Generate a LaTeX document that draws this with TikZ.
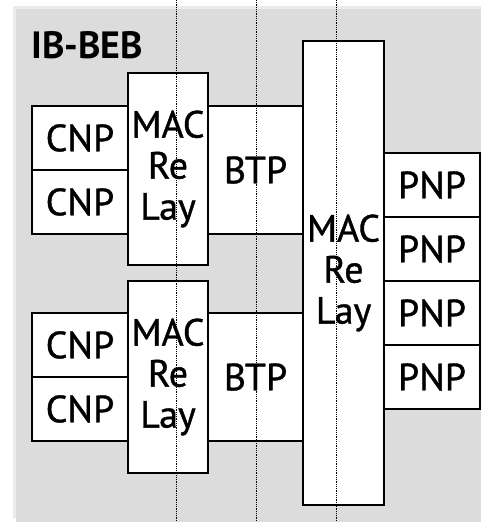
\documentclass[tikz,border=0pt]{standalone}
\usepackage{fontspec}
\setmainfont{PT Sans}
\newfontfamily\bebfont{PT Sans}[FakeBold=1]
\usetikzlibrary{positioning}
\definecolor{BebBack}{HTML}{DCDCDC}
\definecolor{BebShade}{HTML}{EBEBEB}

\begin{document}
\begin{tikzpicture}[x=1pt, y=-1pt, node distance=0pt,
  box/.style={draw=black, fill=white, line width=2pt, inner sep=0pt,
    outer sep=0pt, align=center, font=\bebfont\fontsize{38}{41}\selectfont},
  cnp/.style={box, minimum width=96pt, minimum height=64pt},
  relay/.style={box, minimum width=80pt, minimum height=192pt},
  btp/.style={box, minimum width=95pt, minimum height=128pt},
  dotline/.style={densely dotted, line width=0.8pt}]
  \useasboundingbox (0,0) rectangle (481,522);
  \fill[BebShade] (13,6) rectangle (481,518);
  \fill[BebBack] (16,9) rectangle (481,522);
  \node[anchor=base west, inner sep=0pt,
    font=\fontsize{38}{41}\selectfont\bfseries] (beb) at (31,58) {IB-BEB};
  % upper bridge
  \node[cnp, anchor=north west] (cnpA) at (32,106) {CNP};
  \node[cnp, below=of cnpA] (cnpB) {CNP};
  \node[relay, anchor=north west] (relayA) at (128,73) {MAC\\Re\\Lay};
  \node[btp, anchor=north west] (btpA) at (208,106) {BTP};
  % lower bridge
  \node[cnp, anchor=north west] (cnpC) at (32,313) {CNP};
  \node[cnp, below=of cnpC] (cnpD) {CNP};
  \node[relay, anchor=north west] (relayB) at (128,281) {MAC\\Re\\Lay};
  \node[btp, anchor=north west] (btpB) at (208,313) {BTP};
  % backbone
  \node[box, minimum width=81pt, minimum height=464pt, anchor=north west]
    (relayC) at (303,41) {MAC\\Re\\Lay};
  \node[cnp, anchor=north west] (pnpA) at (384,153) {PNP};
  \node[cnp, below=of pnpA] (pnpB) {PNP};
  \node[cnp, below=of pnpB] (pnpC) {PNP};
  \node[cnp, below=of pnpC] (pnpD) {PNP};
  \foreach \x in {176,256,336}
    \draw[dotline] (\x,0) -- (\x,522);
\end{tikzpicture}
\end{document}
